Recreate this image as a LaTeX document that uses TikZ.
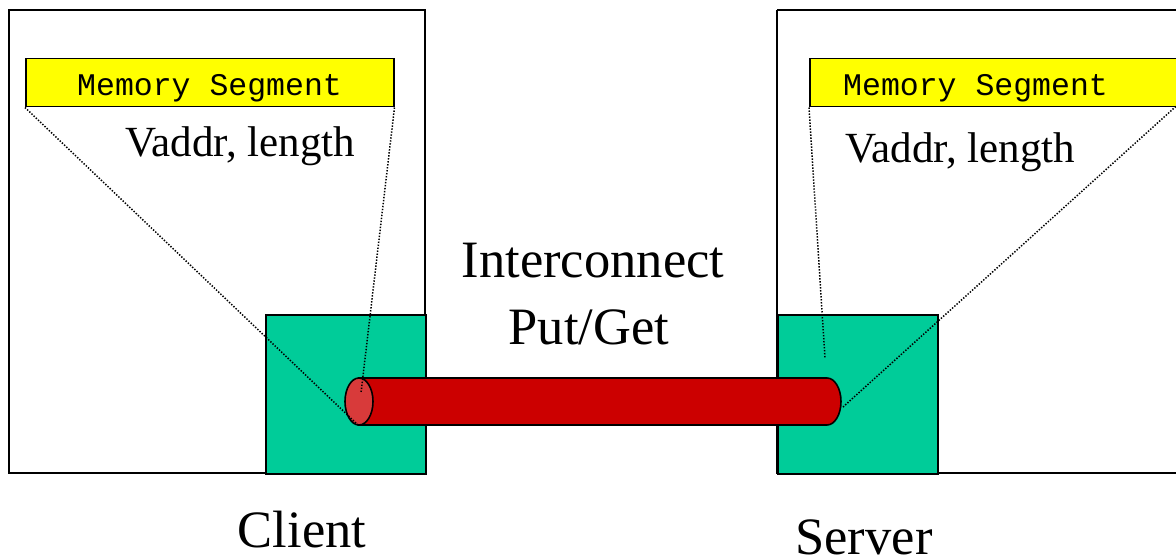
\documentclass[tikz,border=0pt]{standalone}
\usepackage{fontspec}
\setmainfont{Liberation Serif}
\newfontfamily\monof{Liberation Mono}
\definecolor{segyellow}{HTML}{FFFF00}
\definecolor{nicgreen}{HTML}{00CC99}
\definecolor{pipered}{HTML}{CC0000}
\definecolor{pipecap}{HTML}{D83A3A}
\tikzset{
  hostbox/.style={draw=black, line width=1.5pt},
  nicbox/.style={draw=black, line width=1.6pt, fill=nicgreen},
  segbox/.style={draw=black, line width=1.5pt, fill=segyellow},
  pipe/.style={draw=black, line width=1.6pt, fill=pipered},
  mapline/.style={black, line width=1.5pt, dash pattern=on 1.4pt off 1.6pt},
  segtext/.style={inner sep=0pt, anchor=base west, font=\monof\fontsize{31.5}{36}\selectfont},
  addrtext/.style={inner sep=0pt, anchor=base west, font=\fontsize{43}{48}\selectfont},
  bigtext/.style={inner sep=0pt, anchor=base, font=\fontsize{52.5}{60}\selectfont},
}
\begin{document}
\begin{tikzpicture}[x=1pt, y=-1pt]
\useasboundingbox (0,0) rectangle (1176,559);
\clip (0,0) rectangle (1176,559);

% host machines
\draw[hostbox] (9,10) rectangle (425,473);
\draw[hostbox] (777,10) -- (1190,10);
\draw[hostbox] (777,10) -- (777,473) -- (1190,473);

% registered memory segments
\node[segbox, minimum width=368pt, minimum height=48pt, inner sep=0pt, anchor=north west] (segL) at (25,58) {};
\node[segbox, minimum width=400pt, minimum height=48pt, inner sep=0pt, anchor=north west] (segR) at (809,58) {};
\node[segtext] (segLt) at (77,96) {Memory Segment};
\node[segtext] (segRt) at (843,96) {Memory Segment};

\node[addrtext] (addrL) at (125,157) {Vaddr, length};
\node[addrtext] (addrR) at (845,163) {Vaddr, length};

% network interface cards
\node[nicbox, minimum width=160pt, minimum height=159pt, inner sep=0pt, anchor=north west] (nicL) at (265,314) {};
\node[nicbox, minimum width=160pt, minimum height=159pt, inner sep=0pt, anchor=north west] (nicR) at (777,314) {};

% interconnect pipe
\coordinate (pL) at (359,401.5);
\coordinate (pR) at (827,401.5);
\draw[pipe] (359,378) -- (827,378) arc[start angle=90, end angle=-90, x radius=14pt, y radius=23.5pt] -- (359,425) -- cycle;
\draw[black, line width=1.6pt, fill=pipecap] (pL) ellipse[x radius=14pt, y radius=23.5pt];

% mapping of the segments onto the interface
\coordinate (mL1) at (358,425);
\coordinate (mL2) at (361,393);
\coordinate (mR1) at (825,358);
\coordinate (mR2) at (843,407);
\draw[mapline] (segL.south west) -- (mL1);
\draw[mapline] (segL.south east) -- (mL2);
\draw[mapline] (segR.south west) -- (mR1);
\draw[mapline] (1178,104.5) -- (mR2);

% labels
\node[bigtext] (ic) at (593,277) {Interconnect};
\node[bigtext] (pg) at (589,344) {Put/Get};
\node[bigtext] (client) at (302,547) {Client};
\node[bigtext] (server) at (864,554) {Server};
\end{tikzpicture}
\end{document}
